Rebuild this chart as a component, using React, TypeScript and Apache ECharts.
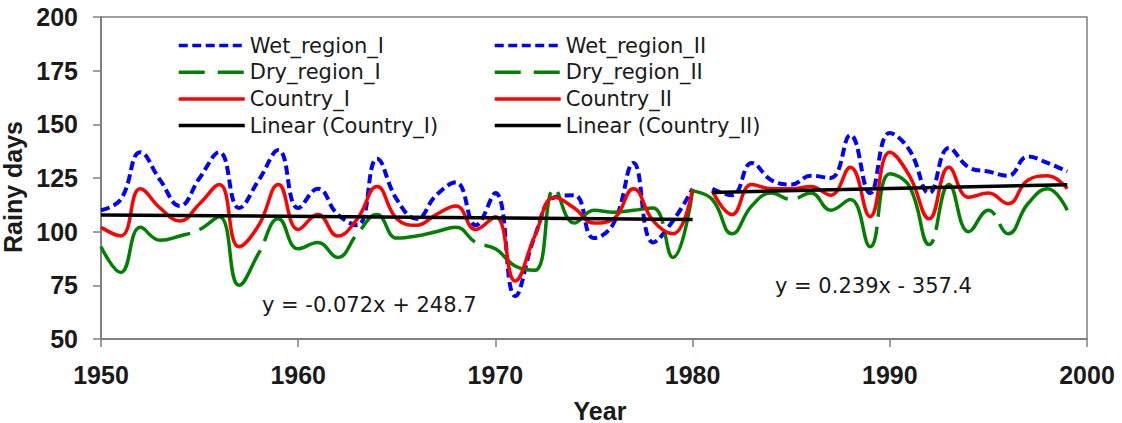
import React, { useEffect, useRef } from "react";
import * as echarts from "echarts";

const yearsI = [1950, 1951, 1952, 1953, 1954, 1955, 1956, 1957, 1958, 1959, 1960, 1961, 1962, 1963, 1964, 1965, 1966, 1967, 1968, 1969, 1970, 1971, 1972, 1973, 1974, 1975, 1976, 1977, 1978, 1979, 1980];
const wetI = [110, 115, 137, 124, 112, 125, 137, 111, 124, 138, 111, 120, 108, 103, 134, 115, 106, 117, 123, 103, 118, 70, 98, 116, 117, 97, 104, 132, 95, 105, 120];
const dryI = [93, 81, 102, 96, 98, 101, 107, 75, 90, 106, 92, 95, 88, 99, 108, 97, 98, 100, 102, 95, 92, 84, 82, 120, 104, 110, 109, 110, 111, 88, 119];
const countryI = [102, 98, 120, 111, 105, 113, 122, 93, 103, 122, 101, 108, 98, 106, 121, 106, 103, 108, 112, 101, 107, 77, 98, 116, 111, 104, 106, 120, 105, 99, 120];

const yearsII = [1981, 1982, 1983, 1984, 1985, 1986, 1987, 1988, 1989, 1990, 1991, 1992, 1993, 1994, 1995, 1996, 1997, 1998, 1999];
const wetII = [120, 117, 132, 124, 122, 126, 125, 145, 118, 146, 138, 118, 139, 130, 128, 126, 135, 132, 128];
const yearsDryII = [1980, 1981, 1982, 1983, 1984, 1985, 1986, 1987, 1988, 1989, 1990, 1991, 1992, 1993, 1994, 1995, 1996, 1997, 1998, 1999];
const dryII = [119, 115, 99, 112, 118, 115, 118, 110, 115, 93, 127, 121, 94, 122, 100, 110, 99, 113, 120, 110];
const countryII = [119, 108, 122, 120, 120, 121, 117, 130, 107, 137, 126, 106, 130, 116, 118, 113, 124, 126, 120];

const trendIYears = [1950, 1980];
const trendIValues = [107.8, 105.7];
const trendIIYears = [1981, 1999];
const trendIIValues = [118.3, 121.9];

const equationI = "y = -0.072x + 248.7";
const equationII = "y = 0.239x - 357.4";

const yTicks = { min: 50, max: 200, interval: 25 };
const xTicks = { min: 1950, max: 2000, interval: 10 };

const NAMES = {
  wetI: "Wet_region_I",
  dryI: "Dry_region_I",
  countryI: "Country_I",
  linI: "Linear (Country_I)",
  wetII: "Wet_region_II",
  dryII: "Dry_region_II",
  countryII: "Country_II",
  linII: "Linear (Country_II)",
};

const BLUE = "#0000ff";
const GREEN = "#008000";
const RED = "#ff0000";
const BLACK = "#000000";
const AXIS = "#808080";
const BOLD = '"Liberation Sans", Arial, sans-serif';
const TEXTF = '"DejaVu Sans", Verdana, sans-serif';

const pair = (xs: number[], ys: number[]) => xs.map((x, i) => [x, ys[i]]);

export default function App() {
  const ref = useRef<HTMLDivElement>(null);
  useEffect(() => {
    if (!ref.current) return;
    const chart = echarts.init(ref.current, undefined, { renderer: "svg" });
    const SMOOTH = 0.45;
    const blueDash = [9, 4.5];
    const greenDash = [140, 10];
    const mk = (name: string, data: number[][], color: string, width: number, dash: any) => ({
      name,
      type: "line",
      data,
      smooth: SMOOTH,
      symbol: "none",
      lineStyle: { color, width, type: dash, cap: "butt" },
      itemStyle: { color },
      z: 2,
    });
    const legendItems = (names: string[]) =>
      names.map((n) => {
        const item: any = { name: n, itemStyle: { opacity: 0 } };
        if (n.startsWith("Wet")) item.lineStyle = { type: blueDash, width: 3.5 };
        else if (n.startsWith("Dry")) item.lineStyle = { type: [26, 13], width: 3.5 };
        else item.lineStyle = { type: "solid", width: 3.5 };
        return item;
      });
    const legendBase = {
      orient: "vertical",
      top: 35,
      padding: 0,
      itemWidth: 66,
      itemHeight: 14,
      itemGap: 5.7,
      textStyle: { fontFamily: TEXTF, fontSize: 21, color: "#1a1a1a", lineHeight: 21 },
    };
    chart.setOption({
      animation: false,
      backgroundColor: "#ffffff",
      grid: {
        left: 101,
        right: 35,
        top: 17,
        bottom: 84,
        containLabel: false,
        outerBoundsMode: "none",
        show: true,
        borderColor: AXIS,
        borderWidth: 1.5,
        backgroundColor: "transparent",
      },
      legend: [
        {
          ...legendBase,
          left: 177,
          data: legendItems([NAMES.wetI, NAMES.dryI, NAMES.countryI, NAMES.linI]),
        },
        {
          ...legendBase,
          left: 493,
          data: legendItems([NAMES.wetII, NAMES.dryII, NAMES.countryII, NAMES.linII]),
        },
      ],
      xAxis: {
        type: "value",
        min: xTicks.min,
        max: xTicks.max,
        interval: xTicks.interval,
        name: "Year",
        nameLocation: "middle",
        nameGap: 59,
        nameTextStyle: { fontFamily: BOLD, fontWeight: "bold", fontSize: 25, color: "#1a1a1a", padding: [0, 0, 0, 12] },
        axisLine: { show: true, lineStyle: { color: AXIS, width: 2 } },
        axisTick: { show: true, length: 8, inside: false, lineStyle: { color: AXIS, width: 1.5 } },
        axisLabel: {
          margin: 23,
          fontFamily: BOLD,
          fontWeight: "bold",
          fontSize: 25,
          color: "#1a1a1a",
          formatter: (v: number) => String(v),
        },
        splitLine: { show: false },
      },
      yAxis: {
        type: "value",
        min: yTicks.min,
        max: yTicks.max,
        interval: yTicks.interval,
        name: "Rainy days",
        nameLocation: "middle",
        nameGap: 48,
        nameRotate: 90,
        nameTextStyle: { fontFamily: BOLD, fontWeight: "bold", fontSize: 25, color: "#1a1a1a", padding: [0, 18, 0, 0] },
        axisLine: { show: true, lineStyle: { color: AXIS, width: 2 } },
        axisTick: { show: true, length: 8, inside: false, lineStyle: { color: AXIS, width: 1.5 } },
        axisLabel: { margin: 23, fontFamily: BOLD, fontWeight: "bold", fontSize: 25, color: "#1a1a1a" },
        splitLine: { show: false },
      },
      series: [
        mk(NAMES.wetI, pair(yearsI, wetI), BLUE, 4, blueDash),
        mk(NAMES.dryI, pair(yearsI, dryI), GREEN, 3.5, greenDash),
        mk(NAMES.countryI, pair(yearsI, countryI), RED, 3.5, "solid"),
        mk(NAMES.wetII, pair(yearsII, wetII), BLUE, 4, blueDash),
        mk(NAMES.dryII, pair(yearsDryII, dryII), GREEN, 3.5, greenDash),
        mk(NAMES.countryII, pair(yearsII, countryII), RED, 3.5, "solid"),
        { ...mk(NAMES.linI, pair(trendIYears, trendIValues), BLACK, 3.5, "solid"), smooth: false, z: 3 },
        { ...mk(NAMES.linII, pair(trendIIYears, trendIIValues), BLACK, 3.5, "solid"), smooth: false, z: 3 },
      ],
      graphic: [
        {
          type: "text",
          x: 262,
          y: 304.5,
          style: { text: equationI, font: `21px ${TEXTF}`, fill: "#1a1a1a", align: "left", verticalAlign: "middle" },
        },
        {
          type: "text",
          x: 775,
          y: 286,
          style: { text: equationII, font: `21px ${TEXTF}`, fill: "#1a1a1a", align: "left", verticalAlign: "middle" },
        },
      ],
    });
    return () => chart.dispose();
  }, []);
  return (
    <div
      ref={ref}
      style={{ position: "fixed", left: 0, top: 0, width: 1122, height: 423, background: "#fff" }}
    />
  );
}
